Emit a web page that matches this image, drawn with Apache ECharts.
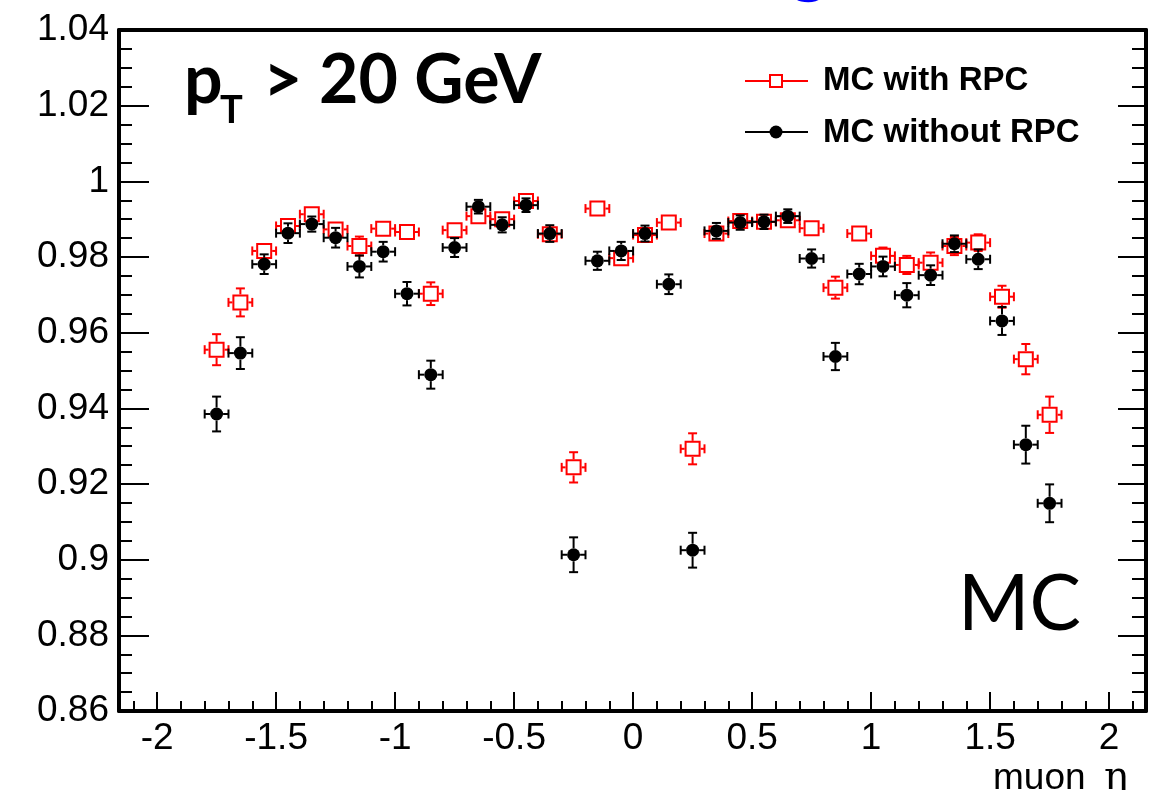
<!DOCTYPE html>
<html><head><meta charset="utf-8">
<script src="https://cdn.jsdelivr.net/npm/echarts@6/dist/echarts.min.js"></script>
<style>html,body{margin:0;padding:0;background:#fff}#c{width:1149px;height:790px}</style>
</head><body><div id="c"></div><script>
// ---- data ----
const eta = [-1.75,-1.65,-1.55,-1.45,-1.35,-1.25,-1.15,-1.05,-0.95,-0.85,-0.75,-0.65,-0.55,-0.45,-0.35,-0.25,-0.15,-0.05,
             0.05,0.15,0.25,0.35,0.45,0.55,0.65,0.75,0.85,0.95,1.05,1.15,1.25,1.35,1.45,1.55,1.65,1.75];
const etaHalfWidth = 0.05;
const effWithRPC = [0.9555,0.9680,0.9816,0.9882,0.9913,0.9873,0.9829,0.9875,0.9866,0.9703,0.9871,0.9908,0.9900,0.9948,0.9860,0.9244,0.9928,0.9797,
                    0.9858,0.9891,0.9293,0.9862,0.9895,0.9893,0.9897,0.9876,0.9719,0.9862,0.9803,0.9779,0.9785,0.9829,0.9838,0.9695,0.9530,0.9383];
const errWithRPC = [0.0041,0.0037,0.0019,0.0018,0.0016,0.0018,0.0025,0.0016,0.0016,0.0030,0.0018,0.0016,0.0017,0.0015,0.0017,0.0040,0.0015,0.0019,
                    0.0017,0.0016,0.0041,0.0017,0.0016,0.0016,0.0016,0.0021,0.0029,0.0017,0.0022,0.0024,0.0027,0.0024,0.0022,0.0029,0.0040,0.0048];
const effWithoutRPC = [0.9385,0.9546,0.9781,0.9863,0.9887,0.9851,0.9775,0.9814,0.9703,0.9489,0.9825,0.9933,0.9885,0.9937,0.9862,0.9013,0.9790,0.9816,
                       0.9862,0.9728,0.9025,0.9869,0.9891,0.9893,0.9908,0.9796,0.9537,0.9755,0.9775,0.9699,0.9752,0.9835,0.9794,0.9631,0.9304,0.9149];
const errWithoutRPC = [0.0046,0.0042,0.0026,0.0026,0.0020,0.0026,0.0029,0.0026,0.0031,0.0037,0.0025,0.0018,0.0020,0.0018,0.0022,0.0046,0.0024,0.0024,
                       0.0021,0.0026,0.0046,0.0021,0.0019,0.0019,0.0018,0.0024,0.0036,0.0027,0.0026,0.0032,0.0026,0.0022,0.0026,0.0037,0.0050,0.0050];
const xMajorTicks = [-2,-1.5,-1,-0.5,0,0.5,1,1.5,2];
const xMinorTicks = [-2.1,-1.9,-1.8,-1.7,-1.6,-1.4,-1.3,-1.2,-1.1,-0.9,-0.8,-0.7,-0.6,-0.4,-0.3,-0.2,-0.1,
                     0.1,0.2,0.3,0.4,0.6,0.7,0.8,0.9,1.1,1.2,1.3,1.4,1.6,1.7,1.8,1.9,2.1];
const xRange = [-2.16, 2.155];
const yRange = [0.86, 1.04];
const yStep = 0.02;
const seriesNames = ['MC with RPC', 'MC without RPC'];
const xTitleWord = 'muon';
const xTitleSymbol = 'η';

// ---- rendering ----
function makeRender(shape, color){
  return function(params, api){
    const x = api.value(0), y = api.value(1), e = api.value(2);
    const c = api.coord([x, y]);
    const yt = api.coord([x, y + e])[1], yb = api.coord([x, y - e])[1];
    const xl = api.coord([x - etaHalfWidth, y])[0], xr = api.coord([x + etaHalfWidth, y])[0];
    const h = shape === 'square' ? 8 : 6.5;
    const cap = 4.5;
    const ls = {stroke: color, lineWidth: 2};
    const ch = [];
    const seg = (x1,y1,x2,y2) => ch.push({type:'line', shape:{x1,y1,x2,y2}, style: ls});
    if (c[1] - yt > h) { seg(c[0], c[1]-h, c[0], yt); seg(c[0]-cap, yt, c[0]+cap, yt); }
    if (yb - c[1] > h) { seg(c[0], c[1]+h, c[0], yb); seg(c[0]-cap, yb, c[0]+cap, yb); }
    seg(xl, c[1], c[0]-h, c[1]); seg(xl, c[1]-cap, xl, c[1]+cap);
    seg(c[0]+h, c[1], xr, c[1]); seg(xr, c[1]-cap, xr, c[1]+cap);
    if (shape === 'square') {
      ch.push({type:'rect', shape:{x:c[0]-7, y:c[1]-7, width:14, height:14}, style:{fill:'transparent', stroke:color, lineWidth:2}});
    } else {
      ch.push({type:'circle', shape:{cx:c[0], cy:c[1], r:6.5}, style:{fill:color}});
    }
    return {type:'group', children: ch};
  };
}

const FONT = '"Liberation Sans", Arial, sans-serif';
const chart = echarts.init(document.getElementById('c'), null, {renderer:'canvas'});
const lineStyle = {color:'#000', width:4};
const tickStyle = {color:'#000', width:2};

chart.setOption({
  animation: false,
  backgroundColor: '#fff',
  grid: {left:119, top:30, right:3, bottom:79, containLabel:false, outerBoundsMode:'none'},
  xAxis: [
    {type:'value', position:'bottom', min:xRange[0], max:xRange[1],
     axisLine:{show:true, onZero:false, lineStyle:lineStyle},
     axisTick:{show:true, inside:true, length:19, lineStyle:tickStyle, customValues: xMajorTicks},
     axisLabel:{show:true, customValues: xMajorTicks, margin:9, fontSize:37, fontFamily:FONT, color:'#000',
                formatter: v => String(+(+v).toFixed(3))},
     splitLine:{show:false}},
    {type:'value', position:'bottom', min:xRange[0], max:xRange[1],
     axisLine:{show:false, onZero:false},
     axisTick:{show:true, inside:true, length:10, lineStyle:tickStyle, customValues: xMinorTicks},
     axisLabel:{show:false}, splitLine:{show:false}},
    {type:'value', position:'top', min:xRange[0], max:xRange[1],
     axisLine:{show:true, onZero:false, lineStyle:lineStyle},
     axisTick:{show:false}, axisLabel:{show:false}, splitLine:{show:false}}
  ],
  yAxis: [
    {type:'value', position:'left', min:yRange[0], max:yRange[1], interval:yStep,
     axisLine:{show:true, onZero:false, lineStyle:lineStyle},
     axisTick:{show:true, inside:true, length:30, lineStyle:tickStyle},
     minorTick:{show:true, splitNumber:4, length:13, lineStyle:tickStyle},
     axisLabel:{show:true, margin:10, fontSize:37, fontFamily:FONT, color:'#000',
                formatter: v => String(+(+v).toFixed(4))},
     splitLine:{show:false}, minorSplitLine:{show:false}},
    {type:'value', position:'right', min:yRange[0], max:yRange[1], interval:yStep,
     axisLine:{show:true, onZero:false, lineStyle:lineStyle},
     axisTick:{show:true, inside:true, length:28, lineStyle:tickStyle},
     minorTick:{show:true, splitNumber:4, length:14, lineStyle:tickStyle},
     axisLabel:{show:false}, splitLine:{show:false}, minorSplitLine:{show:false}}
  ],
  series: [
    {type:'custom', name:seriesNames[0], xAxisIndex:0, yAxisIndex:0, clip:false,
     renderItem: makeRender('square', '#ff0000'),
     encode:{x:0, y:1},
     data: eta.map((x,i) => [x, effWithRPC[i], errWithRPC[i]]), z:2},
    {type:'custom', name:seriesNames[1], xAxisIndex:0, yAxisIndex:0, clip:false,
     renderItem: makeRender('circle', '#000000'),
     encode:{x:0, y:1},
     data: eta.map((x,i) => [x, effWithoutRPC[i], errWithoutRPC[i]]), z:3}
  ],
  graphic: [
    // cut-off blue title fragment
    {type:'text', x:809, y:-34, style:{text:'g', font:'bold 70px Lato', fill:'#0000ff', align:'center', verticalAlign:'middle'}},
    // x-axis title
    {type:'text', x:993, y:779, style:{text:xTitleWord, font:'37px "Liberation Sans"', fill:'#000', align:'left', verticalAlign:'middle'}},
    {type:'text', x:1116, y:779, style:{text:xTitleSymbol, font:'40px "DejaVu Serif"', fill:'#000', align:'center', verticalAlign:'middle'}},
    // pT > 20 GeV
    {type:'text', x:184, y:81, style:{text:'p', font:'bold 68px Lato', fill:'#000', align:'left', verticalAlign:'middle'}},
    {type:'text', x:220, y:111, style:{text:'T', font:'bold 38px Lato', fill:'#000', align:'left', verticalAlign:'middle'}},
    {type:'text', x:263, y:81, style:{text:'> 20 GeV', font:'bold 68px Lato', fill:'#000', align:'left', verticalAlign:'middle'}},
    // MC label
    {type:'text', x:958, y:605, style:{text:'MC', font:'77px Lato', fill:'#000', align:'left', verticalAlign:'middle'}},
    // legend
    {type:'line', shape:{x1:745, y1:81, x2:808, y2:81}, style:{stroke:'#ff0000', lineWidth:2}},
    {type:'rect', shape:{x:770, y:75, width:12, height:12}, style:{fill:'#fff', stroke:'#ff0000', lineWidth:2}},
    {type:'text', x:823, y:81, style:{text:seriesNames[0], font:'bold 33px "Liberation Sans"', fill:'#000', align:'left', verticalAlign:'middle'}},
    {type:'line', shape:{x1:745, y1:132, x2:808, y2:132}, style:{stroke:'#000', lineWidth:2}},
    {type:'circle', shape:{cx:776, cy:132, r:6.5}, style:{fill:'#000'}},
    {type:'text', x:823, y:133, style:{text:seriesNames[1], font:'bold 33px "Liberation Sans"', fill:'#000', align:'left', verticalAlign:'middle'}}
  ]
});
</script></body></html>
